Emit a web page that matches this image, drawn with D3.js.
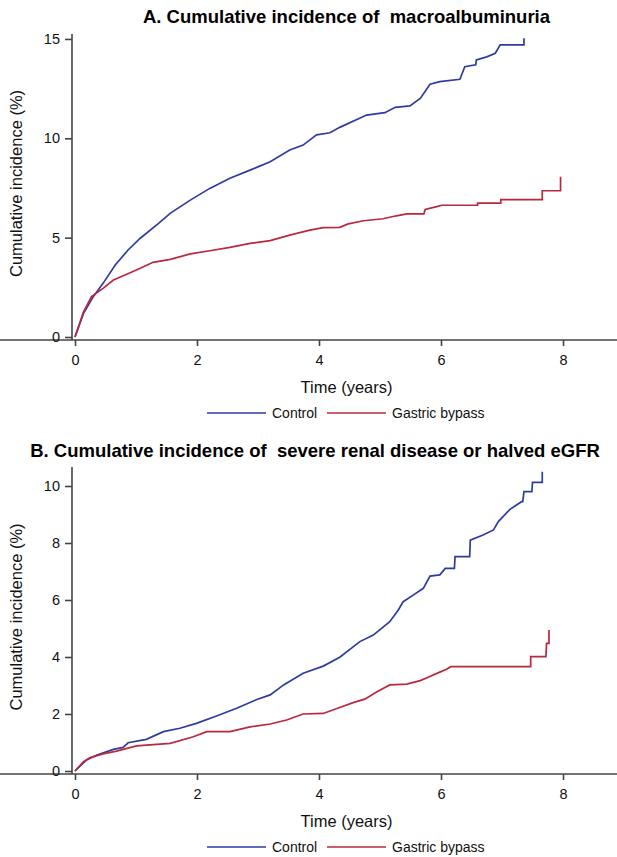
<!DOCTYPE html>
<html>
<head>
<meta charset="utf-8">
<script src="https://cdn.jsdelivr.net/npm/d3@7"></script>
<style>
  body { margin: 0; background: #fff; }
  svg { display: block; font-family: Arial, "Liberation Sans", sans-serif; }
</style>
</head>
<body>
<div id="chart"></div>
<script>
// Panel A: cumulative incidence of macroalbuminuria, [years, %]
var macroControl = [[0,0],[0.14,1.19],[0.30,2.03],[0.46,2.70],[0.66,3.62],[0.87,4.38],[1.07,4.97],[1.37,5.72],[1.56,6.22],
    [1.89,6.89],[2.21,7.48],[2.54,7.99],[2.87,8.40],[3.20,8.82],[3.52,9.41],[3.74,9.66],[3.96,10.17],[4.18,10.28],
    [4.34,10.55],[4.78,11.17],[5.08,11.29],[5.25,11.56],[5.49,11.63],[5.66,12.01],[5.82,12.72],[5.98,12.85],
    [6.31,12.97],[6.39,13.60],[6.57,13.70],[6.58,13.95],[6.75,14.10],[6.89,14.28],[6.97,14.70],[7.36,14.70],[7.36,15.03]];
var macroBypass = [[0,0],[0.14,1.27],[0.27,2.03],[0.46,2.45],[0.63,2.87],[0.82,3.12],[1.07,3.46],[1.28,3.76],[1.56,3.91],
    [1.89,4.18],[2.21,4.34],[2.54,4.51],[2.87,4.71],[3.20,4.85],[3.52,5.13],[3.85,5.38],[4.07,5.50],[4.34,5.52],
    [4.48,5.69],[4.73,5.85],[5.05,5.95],[5.27,6.10],[5.44,6.20],[5.72,6.20],[5.74,6.42],[5.93,6.56],[6.01,6.63],
    [6.60,6.63],[6.60,6.74],[6.98,6.74],[6.98,6.91],[7.66,6.91],[7.66,7.36],[7.96,7.36],[7.96,8.07]];

// Panel B: severe renal disease or halved eGFR, [years, %]
var renalControl = [[0,0],[0.19,0.39],[0.36,0.56],[0.63,0.76],[0.79,0.83],[0.87,0.99],[1.17,1.11],[1.45,1.38],[1.72,1.50],
    [1.99,1.67],[2.32,1.93],[2.65,2.20],[2.98,2.51],[3.20,2.67],[3.42,3.02],[3.74,3.43],[4.07,3.68],[4.34,3.99],
    [4.67,4.54],[4.89,4.77],[5.16,5.24],[5.30,5.65],[5.38,5.94],[5.55,6.18],[5.71,6.41],[5.82,6.84],[5.98,6.88],
    [6.07,7.11],[6.22,7.11],[6.23,7.52],[6.47,7.52],[6.48,8.10],[6.69,8.28],[6.86,8.46],[6.94,8.75],[7.13,9.18],
    [7.32,9.45],[7.34,9.45],[7.36,9.80],[7.49,9.80],[7.50,10.13],[7.66,10.13],[7.66,10.50]];
var renalBypass = [[0,0],[0.14,0.33],[0.25,0.47],[0.46,0.60],[0.68,0.70],[1.01,0.88],[1.56,0.97],[1.94,1.20],[2.16,1.38],
    [2.54,1.38],[2.87,1.55],[3.20,1.65],[3.47,1.79],[3.74,2.00],[4.07,2.02],[4.34,2.23],[4.56,2.40],[4.75,2.52],
    [4.95,2.78],[5.16,3.02],[5.44,3.05],[5.66,3.17],[5.79,3.29],[5.98,3.47],[6.09,3.57],[6.16,3.66],[7.47,3.66],
    [7.47,4.01],[7.72,4.01],[7.73,4.48],[7.77,4.48],[7.77,4.95]];

var xTicks = [0, 2, 4, 6, 8];
var yTicksA = [0, 5, 10, 15];
var yTicksB = [0, 2, 4, 6, 8, 10];
var groups = ["Control", "Gastric bypass"];
var colors = ["#2e3ca2", "#b9283c"];

var w = 617, h = 857;
var svg = d3.select("#chart").append("svg")
    .attr("width", w)
    .attr("height", h);

// one panel: title, axes, two curves, legend
function panel(cfg) {
    var x = d3.scaleLinear().domain([0, 8.9]).range([75, 617.9]);
    var y = d3.scaleLinear().domain([0, cfg.yMax]).range([cfg.y0, cfg.y0 - cfg.yMax * cfg.yUnit]);
    var g = svg.append("g");

    g.append("text")
        .attr("x", cfg.titleX).attr("y", cfg.titleY)
        .attr("text-anchor", "middle")
        .style("white-space", "pre")
        .attr("font-size", 18.5).attr("font-weight", "bold")
        .text(cfg.title);

    var xAxis = g.append("g")
        .attr("transform", "translate(0," + (cfg.y0 + 3) + ")")
        .call(d3.axisBottom(x).tickValues(xTicks).tickSize(6).tickSizeOuter(0).tickPadding(9));
    var yAxis = g.append("g")
        .attr("transform", "translate(72,0)")
        .call(d3.axisLeft(y).tickValues(cfg.yTicks).tickSize(7).tickSizeOuter(0).tickPadding(5));
    // start x axis at the y axis line
    xAxis.select(".domain").attr("d", "M-3,0H617");
    yAxis.select(".domain").attr("d", "M0," + y.range()[1] + "V" + (cfg.y0 + 3));
    [xAxis, yAxis].forEach(function(a) {
        a.selectAll(".domain, .tick line").attr("stroke", "#444").attr("stroke-width", 1.6);
        a.selectAll("text").attr("font-size", 14.5).attr("fill", "#111")
            .attr("font-family", "Arial, 'Liberation Sans', sans-serif");
    });

    g.append("text")
        .attr("x", 346.5).attr("y", cfg.y0 + 56)
        .attr("text-anchor", "middle").attr("font-size", 16.5).attr("fill", "#111")
        .text("Time (years)");
    g.append("text")
        .attr("transform", "translate(22," + ((cfg.y0 + y.range()[1]) / 2 - 2) + ") rotate(-90)")
        .attr("text-anchor", "middle").attr("font-size", 16.5).attr("fill", "#111")
        .text("Cumulative incidence (%)");

    var line = d3.line()
        .x(function(d) { return x(d[0]); })
        .y(function(d) { return y(d[1]); });
    [cfg.control, cfg.bypass].forEach(function(s, i) {
        g.append("path")
            .datum(s)
            .attr("fill", "none")
            .attr("stroke", colors[i])
            .attr("stroke-width", 1.7)
            .attr("d", line);
    });

    // legend
    var ly = cfg.y0 + 76;
    var lx = [207, 327];
    groups.forEach(function(name, i) {
        g.append("line")
            .attr("x1", lx[i]).attr("x2", lx[i] + 59)
            .attr("y1", ly).attr("y2", ly)
            .attr("stroke", colors[i]).attr("stroke-width", 1.4);
        g.append("text")
            .attr("x", lx[i] + 65).attr("y", ly + 5)
            .attr("font-size", 14).attr("fill", "#111")
            .text(name);
    });
}

panel({
    title: "A. Cumulative incidence of  macroalbuminuria",
    titleX: 346.5, titleY: 23,
    y0: 337, yUnit: 19.87, yMax: 15.25, yTicks: yTicksA,
    control: macroControl, bypass: macroBypass
});
panel({
    title: "B. Cumulative incidence of  severe renal disease or halved eGFR",
    titleX: 315, titleY: 457,
    y0: 771, yUnit: 28.5, yMax: 10.67, yTicks: yTicksB,
    control: renalControl, bypass: renalBypass
});
</script>
</body>
</html>
